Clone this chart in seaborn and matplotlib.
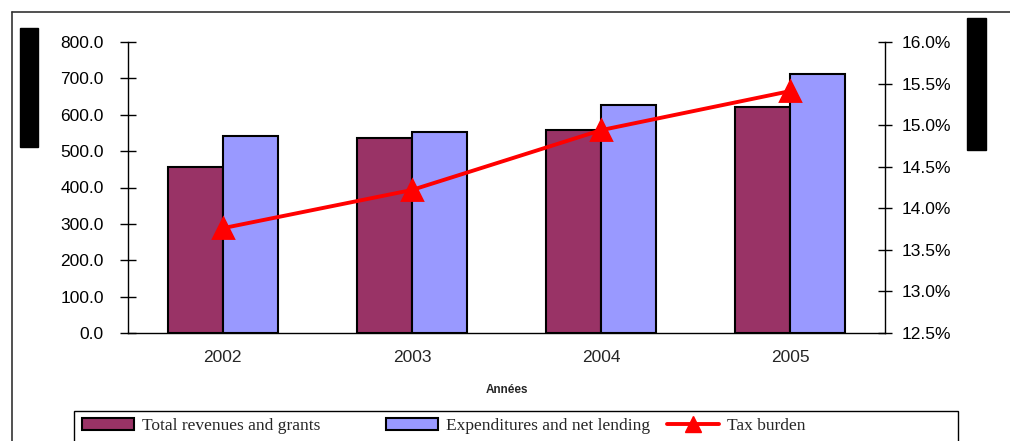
import matplotlib
matplotlib.use("Agg")
import matplotlib.pyplot as plt
from matplotlib.patches import Rectangle, Patch
from matplotlib.lines import Line2D
from matplotlib.ticker import FixedLocator, FormatStrFormatter
import seaborn as sns
import pandas as pd

# data
years = ["2002", "2003", "2004", "2005"]
revenues = [456, 536, 558, 622]
expenditures = [541, 553, 626, 712]
tax_burden = [13.76, 14.22, 14.94, 15.41]
series_names = ["Total revenues and grants", "Expenditures and net lending", "Tax burden"]
bar_colors = ["#993366", "#9999FF"]

W, H = 1010, 441

sns.set_style("white")
plt.rcParams["font.family"] = ["Liberation Sans", "DejaVu Sans"]

df = pd.DataFrame({
    "year": years * 2,
    "value": revenues + expenditures,
    "series": [series_names[0]] * len(years) + [series_names[1]] * len(years),
})

fig = plt.figure(figsize=(W / 100, H / 100), dpi=100)
ax = fig.add_axes([128 / W, 1 - 333 / H, (885 - 128) / W, (333 - 42) / H])

# bars
sns.barplot(data=df, x="year", y="value", hue="series", palette=bar_colors,
            width=0.58, gap=0, saturation=1, edgecolor="black", linewidth=1.5,
            legend=False, ax=ax)

# tax burden line on secondary axis
ax2 = ax.twinx()
sns.pointplot(x=years, y=tax_burden, color="red", markers="^", errorbar=None, ax=ax2)
for line in ax2.lines:
    line.set_markersize(14)
    line.set_linewidth(2.8)
    line.set_markeredgecolor("red")

# left axis
ax.set_ylim(0, 800)
ax.set_xlim(-0.5, 3.5)
ax.yaxis.set_major_locator(FixedLocator(range(0, 801, 100)))
ax.yaxis.set_major_formatter(FormatStrFormatter("%.1f"))
ax.tick_params(axis="y", direction="inout", length=11, width=1, pad=12,
               labelsize=12.5, colors="black")
ax.set_ylabel("")

# x axis: labels centered, ticks between categories
ax.xaxis.set_minor_locator(FixedLocator([0.5, 1.5, 2.5]))
ax.tick_params(axis="x", which="major", length=0, pad=12, labelsize=12.5)
ax.tick_params(axis="x", which="minor", direction="inout", length=10, width=1,
               color="black")
ax.set_xlabel("Années", fontsize=8.5, fontweight="bold", labelpad=14)

# right axis
ax2.set_ylim(12.5, 16.0)
ax2.yaxis.set_major_locator(FixedLocator([12.5, 13.0, 13.5, 14.0, 14.5, 15.0, 15.5, 16.0]))
ax2.yaxis.set_major_formatter(FormatStrFormatter("%.1f%%"))
ax2.tick_params(axis="y", direction="inout", length=10, width=1, pad=7,
                labelsize=12.5, colors="black")
ax2.set_ylabel("")

for a in (ax, ax2):
    a.spines["top"].set_visible(False)
    for s in ("left", "right", "bottom"):
        a.spines[s].set_color("black")
        a.spines[s].set_linewidth(1)
ax.spines["right"].set_visible(False)
ax2.spines["left"].set_visible(False)
ax2.spines["bottom"].set_visible(False)

# outer frame of the original figure (top-left part visible)
fig.add_artist(Line2D([12 / W, 12 / W], [0, 1 - 12 / H], color="#333333", lw=1.2,
                      transform=fig.transFigure))
fig.add_artist(Line2D([12 / W, 1], [1 - 12 / H, 1 - 12 / H], color="#333333", lw=1.2,
                      transform=fig.transFigure))

# blacked-out axis titles
fig.add_artist(Rectangle((20 / W, 1 - 147 / H), 18 / W, 119 / H, color="black",
                         transform=fig.transFigure))
fig.add_artist(Rectangle((967 / W, 1 - 150 / H), 19 / W, 132 / H, color="black",
                         transform=fig.transFigure))

# legend frame and entries
fig.add_artist(Rectangle((74 / W, 1 - 450 / H), (958 - 74) / W, 39 / H, fill=False,
                         edgecolor="black", lw=1, transform=fig.transFigure))
handles = [
    Patch(facecolor=bar_colors[0], edgecolor="black", lw=1.5),
    Patch(facecolor=bar_colors[1], edgecolor="black", lw=1.5),
    Line2D([], [], color="red", lw=2.8, marker="^", ms=11),
]
starts = [82, 386, 667]
for h, name, x0 in zip(handles, series_names, starts):
    fig.legend([h], [name], loc="center left", bbox_to_anchor=(x0 / W, 1 - 426 / H),
               frameon=False, borderpad=0, borderaxespad=0, handlelength=3.0,
               handletextpad=0.45, numpoints=1,
               prop={"family": "Liberation Serif", "size": 12.5})

fig.savefig("out.png", dpi=100)
